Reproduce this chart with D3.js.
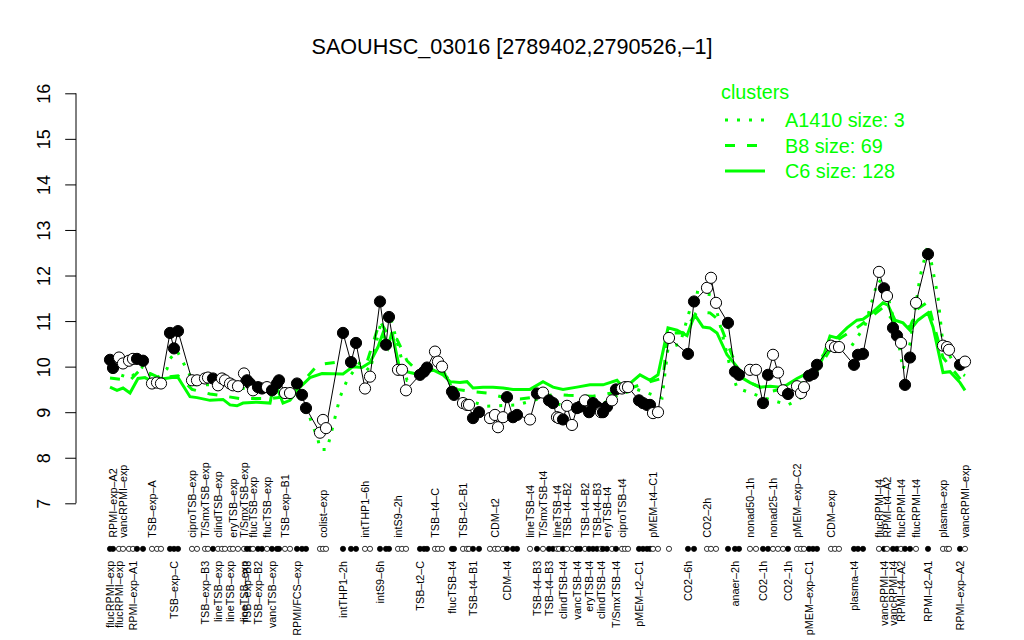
<!DOCTYPE html>
<html><head><meta charset="utf-8">
<script src="https://cdn.jsdelivr.net/npm/d3@7"></script>
<style>
body{margin:0;background:#fff}
svg{display:block}
text{font-family:"Liberation Sans",Arial,Helvetica,sans-serif}
</style>
</head><body>
<svg id="chart" width="1024" height="640"></svg>
<script>
const title = "SAOUHSC_03016 [2789402,2790526,–1]";
const yTicks = [7, 8, 9, 10, 11, 12, 13, 14, 15, 16];

// sample positions (slot units along the condition axis) and expression values
const pointPos = [
  2.5,3.25,4.75,5.75,7.25,8.25,9.25,10.75,13,14.25,
  15.25,17.5,18.5,19.5,23,24.25,26.25,27,28.25,29.5,
  30.5,31.25,32.5,33.25,34.5,36,36.75,37.5,38.25,39.5,
  40.5,41.75,43,44.25,44.75,46.25,47.5,49.25,50.5,51.5,
  55,55.75,56.5,60.75,62.75,64,66.25,67.5,70,71.5,
  72.25,74.5,75.5,76.5,80,81,81.75,83.75,84.5,85.5,
  88,88.5,90.75,91.75,92.25,93.25,94.75,97.5,98.75,99.5,
  100.75,101.75,103.25,104.25,107.5,109.25,110.75,112.25,113.25,114.25,
  114.75,115.75,116.75,118,119.25,120,121.25,122.25,123.25,124.25,
  125.25,125.75,126.75,128,129,130.5,131.25,132,134.75,135.75,
  136.75,137.5,138.25,139.5,142.25,147,148.5,151.75,152.75,154,
  157,158.75,159.75,162.5,164,165.75,167,168.25,169.5,170.75,
  172,174.25,175.25,176,177.25,178.25,179.25,182.75,183.75,184.75,
  188.5,189.5,190.75,194.75,196,196.75,198.25,199.25,200.25,201.25,
  202.5,204,207,210.75,211.75,212.25,215,216.25
];
const pointVal = [
  10.15,9.97,10.2,10.07,10.13,10.17,10.17,10.13,9.63,9.65,
  9.63,10.74,10.4,10.78,9.7,9.7,9.74,9.76,9.74,9.59,
  9.74,9.7,9.63,9.59,9.57,9.85,9.7,9.63,9.48,9.55,
  9.52,9.55,9.48,9.63,9.7,9.42,9.42,9.63,9.38,9.09,
  8.55,8.83,8.65,10.74,10.1,10.52,9.52,9.78,11.43,10.48,
  11.09,9.93,9.93,9.48,9.82,9.89,9.98,10.33,10.11,10.0,
  9.45,9.38,9.2,9.16,9.16,8.87,9.0,8.87,8.94,8.67,
  8.89,9.33,8.89,8.94,8.84,9.41,9.43,9.26,9.2,8.89,
  8.87,8.84,9.14,8.72,9.09,9.12,9.26,9.0,9.2,9.12,
  9.0,9.0,9.12,9.26,9.5,9.52,9.55,9.55,9.26,9.2,
  9.16,9.16,8.98,9.0,10.63,10.28,11.43,11.73,11.95,11.4,
  10.96,9.89,9.82,9.93,9.93,9.2,9.82,10.26,9.87,9.48,
  9.4,9.57,9.42,9.55,9.8,9.84,10.04,10.46,10.43,10.43,
  10.04,10.26,10.28,12.08,11.72,11.55,10.85,10.68,10.52,9.6,
  10.2,11.4,12.47,10.46,10.43,10.37,10.04,10.11
];
const pointFilled = [
  1,1,0,0,0,0,1,1,0,0,
  0,1,1,1,0,0,0,0,1,0,
  0,0,0,0,0,0,1,1,0,1,
  1,0,1,1,1,0,0,1,1,1,
  0,0,0,1,1,1,0,0,1,1,
  1,0,0,0,1,1,1,0,0,0,
  1,1,0,0,0,1,1,0,0,0,
  0,1,1,1,0,1,0,1,1,0,
  0,1,0,0,1,1,0,1,1,1,
  0,1,1,0,1,0,0,0,1,1,
  1,1,0,0,0,1,1,0,0,0,
  1,1,1,0,0,1,1,0,0,0,
  1,0,0,0,1,1,1,0,0,0,
  1,1,1,0,1,0,1,1,0,1,
  1,0,1,0,0,0,1,0
];

// [point number (1-based), label]
const topLabels = [
  [2,"RPMI–exp–A2"],[4,"vancRPMI–exp"],[9,"TSB–exp–A"],[15,"ciproTSB–exp"],
  [17,"T/SmxTSB–exp"],[20,"clindTSB–exp"],[24,"eryTSB–exp"],[26,"T/SmxTSB–exp"],
  [29,"flucTSB–exp"],[32,"flucTSB–exp"],[36,"TSB–exp–B1"],[42,"colist–exp"],
  [47,"intTHP1–6h"],[52,"intS9–2h"],[58,"TSB–t4–C"],[63,"TSB–t2–B1"],
  [69,"CDM–t2"],[75,"lineTSB–t4"],[77,"T/SmxTSB–t4"],[80,"lineTSB–t4"],
  [83,"TSB–t4–B2"],[87,"TSB–t4–B2"],[90,"TSB–t4–B3"],[93,"eryTSB–t4"],
  [96,"ciproTSB–t4"],[103,"pMEM–t4–C1"],[108,"CO2–2h"],[114,"nonad50–1h"],
  [118,"nonad25–1h"],[122,"pMEM–exp–C2"],[128,"CDM–exp"],[134,"flucRPMI–t4"],
  [136,"RPMI–t4–A2"],[139,"flucRPMI–t4"],[142,"flucRPMI–t4"],[144,"plasma–exp"],
  [148,"vancRPMI–exp"]
];
const bottomLabels = [
  [1,"flucRPMI–exp"],[3,"flucRPMI–exp"],[6,"RPMI–exp–A1"],[13,"TSB–exp–C"],
  [17,"TSB–exp–B3"],[20,"lineTSB–exp"],[23,"lineTSB–exp"],[26,"lineTSB–exp"],
  [27,"TSB–exp–B3"],[30,"TSB–exp–B2"],[33,"vancTSB–exp"],[38,"RPMI/FCS–exp"],
  [44,"intTHP1–2h"],[49,"intS9–6h"],[55,"TSB–t2–C"],[61,"flucTSB–t4"],
  [66,"TSB–t4–B1"],[72,"CDM–t4"],[76,"TSB–t4–B3"],[78,"TSB–t4–B3"],
  [82,"clindTSB–t4"],[85,"vancTSB–t4"],[88,"eryTSB–t4"],[91,"clindTSB–t4"],
  [95,"T/SmxTSB–t4"],[99,"pMEM–t2–C1"],[106,"CO2–6h"],[112,"anaer–2h"],
  [116,"CO2–1h"],[121,"CO2–1h"],[125,"pMEM–exp–C1"],[131,"plasma–t4"],
  [135,"vancRPMI–t4"],[137,"vancRPMI–t4"],[139,"RPMI–t4–A2"],[143,"RPMI–t2–A1"],
  [147,"RPMI–exp–A2"]
];

// cluster profiles
const c6Pos = [2.5,4.25,5.75,7.5,9.5,11.25,12.5,14.25,16.25,18,19.5,22.5,24.25,27.5,30.75,32.5,34.25,35.75,39.25,42.5,43,44.25,45.75,47.5,50,52.5,55.5,60.75,63.25,65.5,67.5,69.5,70.75,72,73,73.75,75,77.5,80,83.25,85.75,87.5,90,91.75,93.25,95.75,98.25,100.75,103.25,107.5,110.75,113.25,115.75,119.25,122.5,125.75,129.25,130.75,132.5,135,137.5,139.5,142,144.25,146.75,148,148.75,150.75,152.5,154.25,156.75,159.25,160,162.5,165,167.5,170,171.75,174.25,176.75,179.25,180.75,182.5,184.25,186.75,189.25,190.75,193.25,195.75,197,198.75,200.75,202.5,204.5,207,208.25,210.75,212.5,215,216.25];
const c6Val = [9.55,9.48,9.53,9.42,9.74,9.76,9.7,9.74,9.74,9.76,9.76,9.34,9.32,9.26,9.28,9.16,9.14,9.2,9.22,9.2,9.41,9.53,9.2,9.26,9.55,9.76,9.85,9.84,10.0,9.98,10.09,10.43,10.74,10.43,10.76,10.43,9.93,9.87,9.82,9.93,9.82,9.67,9.65,9.67,9.53,9.55,9.55,9.53,9.5,9.5,9.67,9.55,9.5,9.55,9.6,9.6,9.7,9.55,9.63,9.82,9.7,9.82,10.85,10.8,10.68,10.98,11.13,10.87,10.85,10.74,10.26,10.0,9.78,9.65,9.55,9.57,9.55,9.6,9.74,9.85,9.91,10.2,10.67,10.63,10.85,11.02,11.04,11.2,11.4,11.35,11.02,10.96,10.8,11.02,11.18,10.87,9.87,9.89,9.65,9.48];
const b8Pos = [2.5,7.5,10,12.5,15,19.5,23,27.5,35,42.5,47.5,50,54.5,59.25,66.75,70,72,74.25,76.75,80,85,89.25,93.25,96.75,100.75,105,114.25,117,123.25,130,136.75,140.75,142,145.75,149.25,152.5,154.5,158.25,161.25,167.5,175,180,183.75,190,195.75,198.75,202.5,204.25,207,208.25,210.75,216.25];
const b8Val = [9.75,9.7,9.93,9.85,9.75,9.8,9.5,9.4,9.3,9.3,9.35,9.6,10.04,10.1,10.1,11.0,10.7,10.6,10.13,9.85,9.95,9.5,9.45,9.42,9.33,9.29,9.39,9.37,9.35,9.45,9.65,9.75,10.74,10.74,11.2,11.18,11.04,10.2,9.7,9.45,9.6,10.0,10.55,10.9,11.3,10.95,10.87,11.26,11.42,10.98,10.2,9.6];
const a1410Pos = [2.5,5,7.5,10.75,13.75,16.75,17.5,19.25,21.75,23.75,30,37.5,45,49.25,51.75,54.5,55,56.75,58.25,60,61.75,65,67.5,69.25,70.5,72.5,75,76.75,80,85,89.25,96.75,104.25,110,117.5,125,130,134.25,140.5,142,145,148.75,153.25,157.5,159.25,166.25,172,175,178.25,181.75,187.5,191.25,194.5,196.25,199.25,200.75,202.5,205,207,209.5,210.75,215,216.25];
const a1410Val = [9.9,9.82,9.75,10.0,9.7,9.95,10.17,10.35,9.93,9.6,9.6,9.5,9.55,9.4,9.05,8.4,8.18,8.18,8.7,9.33,9.7,10.1,9.9,10.6,11.06,11.13,10.3,9.7,9.8,10.05,9.33,9.13,9.16,9.3,9.1,9.15,9.4,9.5,9.31,10.4,10.5,11.64,11.57,10.0,9.53,9.31,9.16,9.3,9.87,10.4,10.4,10.9,11.9,11.8,10.74,9.93,10.5,11.97,12.67,11.53,10.48,9.87,9.8];

const legendTitle = "clusters";
const legendItems = ["A1410 size: 3", "B8 size: 69", "C6 size: 128"];
const rugLevel = 6;

const GREEN = "#00ff00";
const svg = d3.select("#chart");
const x = d3.scaleLinear().domain([0, 220]).range([100, 980]);
const y = d3.scaleLinear().domain([7, 16]).range([503.3, 93.3]);

const points = pointPos.map((p, i) => ({p, v: pointVal[i], f: pointFilled[i]}));

// title
svg.append("text").attr("x", 512).attr("y", 54).attr("text-anchor", "middle")
  .attr("font-size", 21.6).attr("fill", "#000").text(title);

// y axis
const yAxis = d3.axisLeft(y).tickValues(yTicks).tickSize(10.8).tickFormat(d3.format("d"));
const yg = svg.append("g").attr("transform", "translate(76,0)").call(yAxis);
yg.select(".domain").attr("stroke", "#000").attr("stroke-width", 1).attr("d", `M0,${y(7)}V${y(16)}`);
yg.selectAll(".tick line").attr("stroke", "#000");
yg.selectAll(".tick text").attr("font-size", 18).attr("fill", "#000")
  .attr("font-family", '"Liberation Sans",Arial,sans-serif')
  .attr("x", null).attr("dy", null)
  .attr("text-anchor", "middle")
  .attr("transform", "translate(-26,0) rotate(-90)");

// cluster lines
function clusterLine(pos, val, dash) {
  const data = pos.map((p, i) => ({p, v: val[i]}));
  svg.append("path").datum(data)
    .attr("d", d3.line().x(d => x(d.p)).y(d => y(d.v)))
    .attr("fill", "none").attr("stroke", GREEN).attr("stroke-width", 3)
    .attr("stroke-dasharray", dash);
}
clusterLine(c6Pos, c6Val, null);
clusterLine(b8Pos, b8Val, "10,12");
clusterLine(a1410Pos, a1410Val, "3,9");

// gene profile
svg.append("path").datum(points)
  .attr("d", d3.line().x(d => x(d.p)).y(d => y(d.v)))
  .attr("fill", "none").attr("stroke", "#000").attr("stroke-width", 1);
svg.append("g").selectAll("circle").data(points).join("circle")
  .attr("cx", d => x(d.p)).attr("cy", d => y(d.v)).attr("r", 5.6)
  .attr("fill", d => d.f ? "#000" : "#fff").attr("stroke", "#000").attr("stroke-width", 1);

// rug of conditions
svg.append("g").selectAll("circle").data(points).join("circle")
  .attr("cx", d => x(d.p)).attr("cy", y(rugLevel)).attr("r", 2.6)
  .attr("fill", d => d.f ? "#000" : "#fff").attr("stroke", "#000").attr("stroke-width", 0.8);

// condition labels
const rugY = y(rugLevel);
svg.append("g").selectAll("text").data(topLabels).join("text")
  .attr("transform", d => `translate(${x(pointPos[d[0]-1]) + 3.8},${rugY - 11}) rotate(-90)`)
  .attr("text-anchor", "start").attr("font-size", 10.8).attr("fill", "#000")
  .text(d => d[1]);
svg.append("g").selectAll("text").data(bottomLabels).join("text")
  .attr("transform", d => `translate(${x(pointPos[d[0]-1]) + 3.8},${rugY + 12}) rotate(-90)`)
  .attr("text-anchor", "end").attr("font-size", 10.8).attr("fill", "#000")
  .text(d => d[1]);

// legend
const lg = svg.append("g");
lg.append("text").attr("x", 721).attr("y", 99).attr("font-size", 19.8).attr("fill", GREEN).text(legendTitle);
const dashes = ["3,9", "10,12", null];
legendItems.forEach((t, i) => {
  const cy = 120 + i * 25.5;
  lg.append("line").attr("x1", 725).attr("x2", 765).attr("y1", cy).attr("y2", cy)
    .attr("stroke", GREEN).attr("stroke-width", 3).attr("stroke-dasharray", dashes[i]);
  lg.append("text").attr("x", 785).attr("y", cy + 7).attr("font-size", 19.8).attr("fill", GREEN).text(t);
});
</script>
</body></html>
